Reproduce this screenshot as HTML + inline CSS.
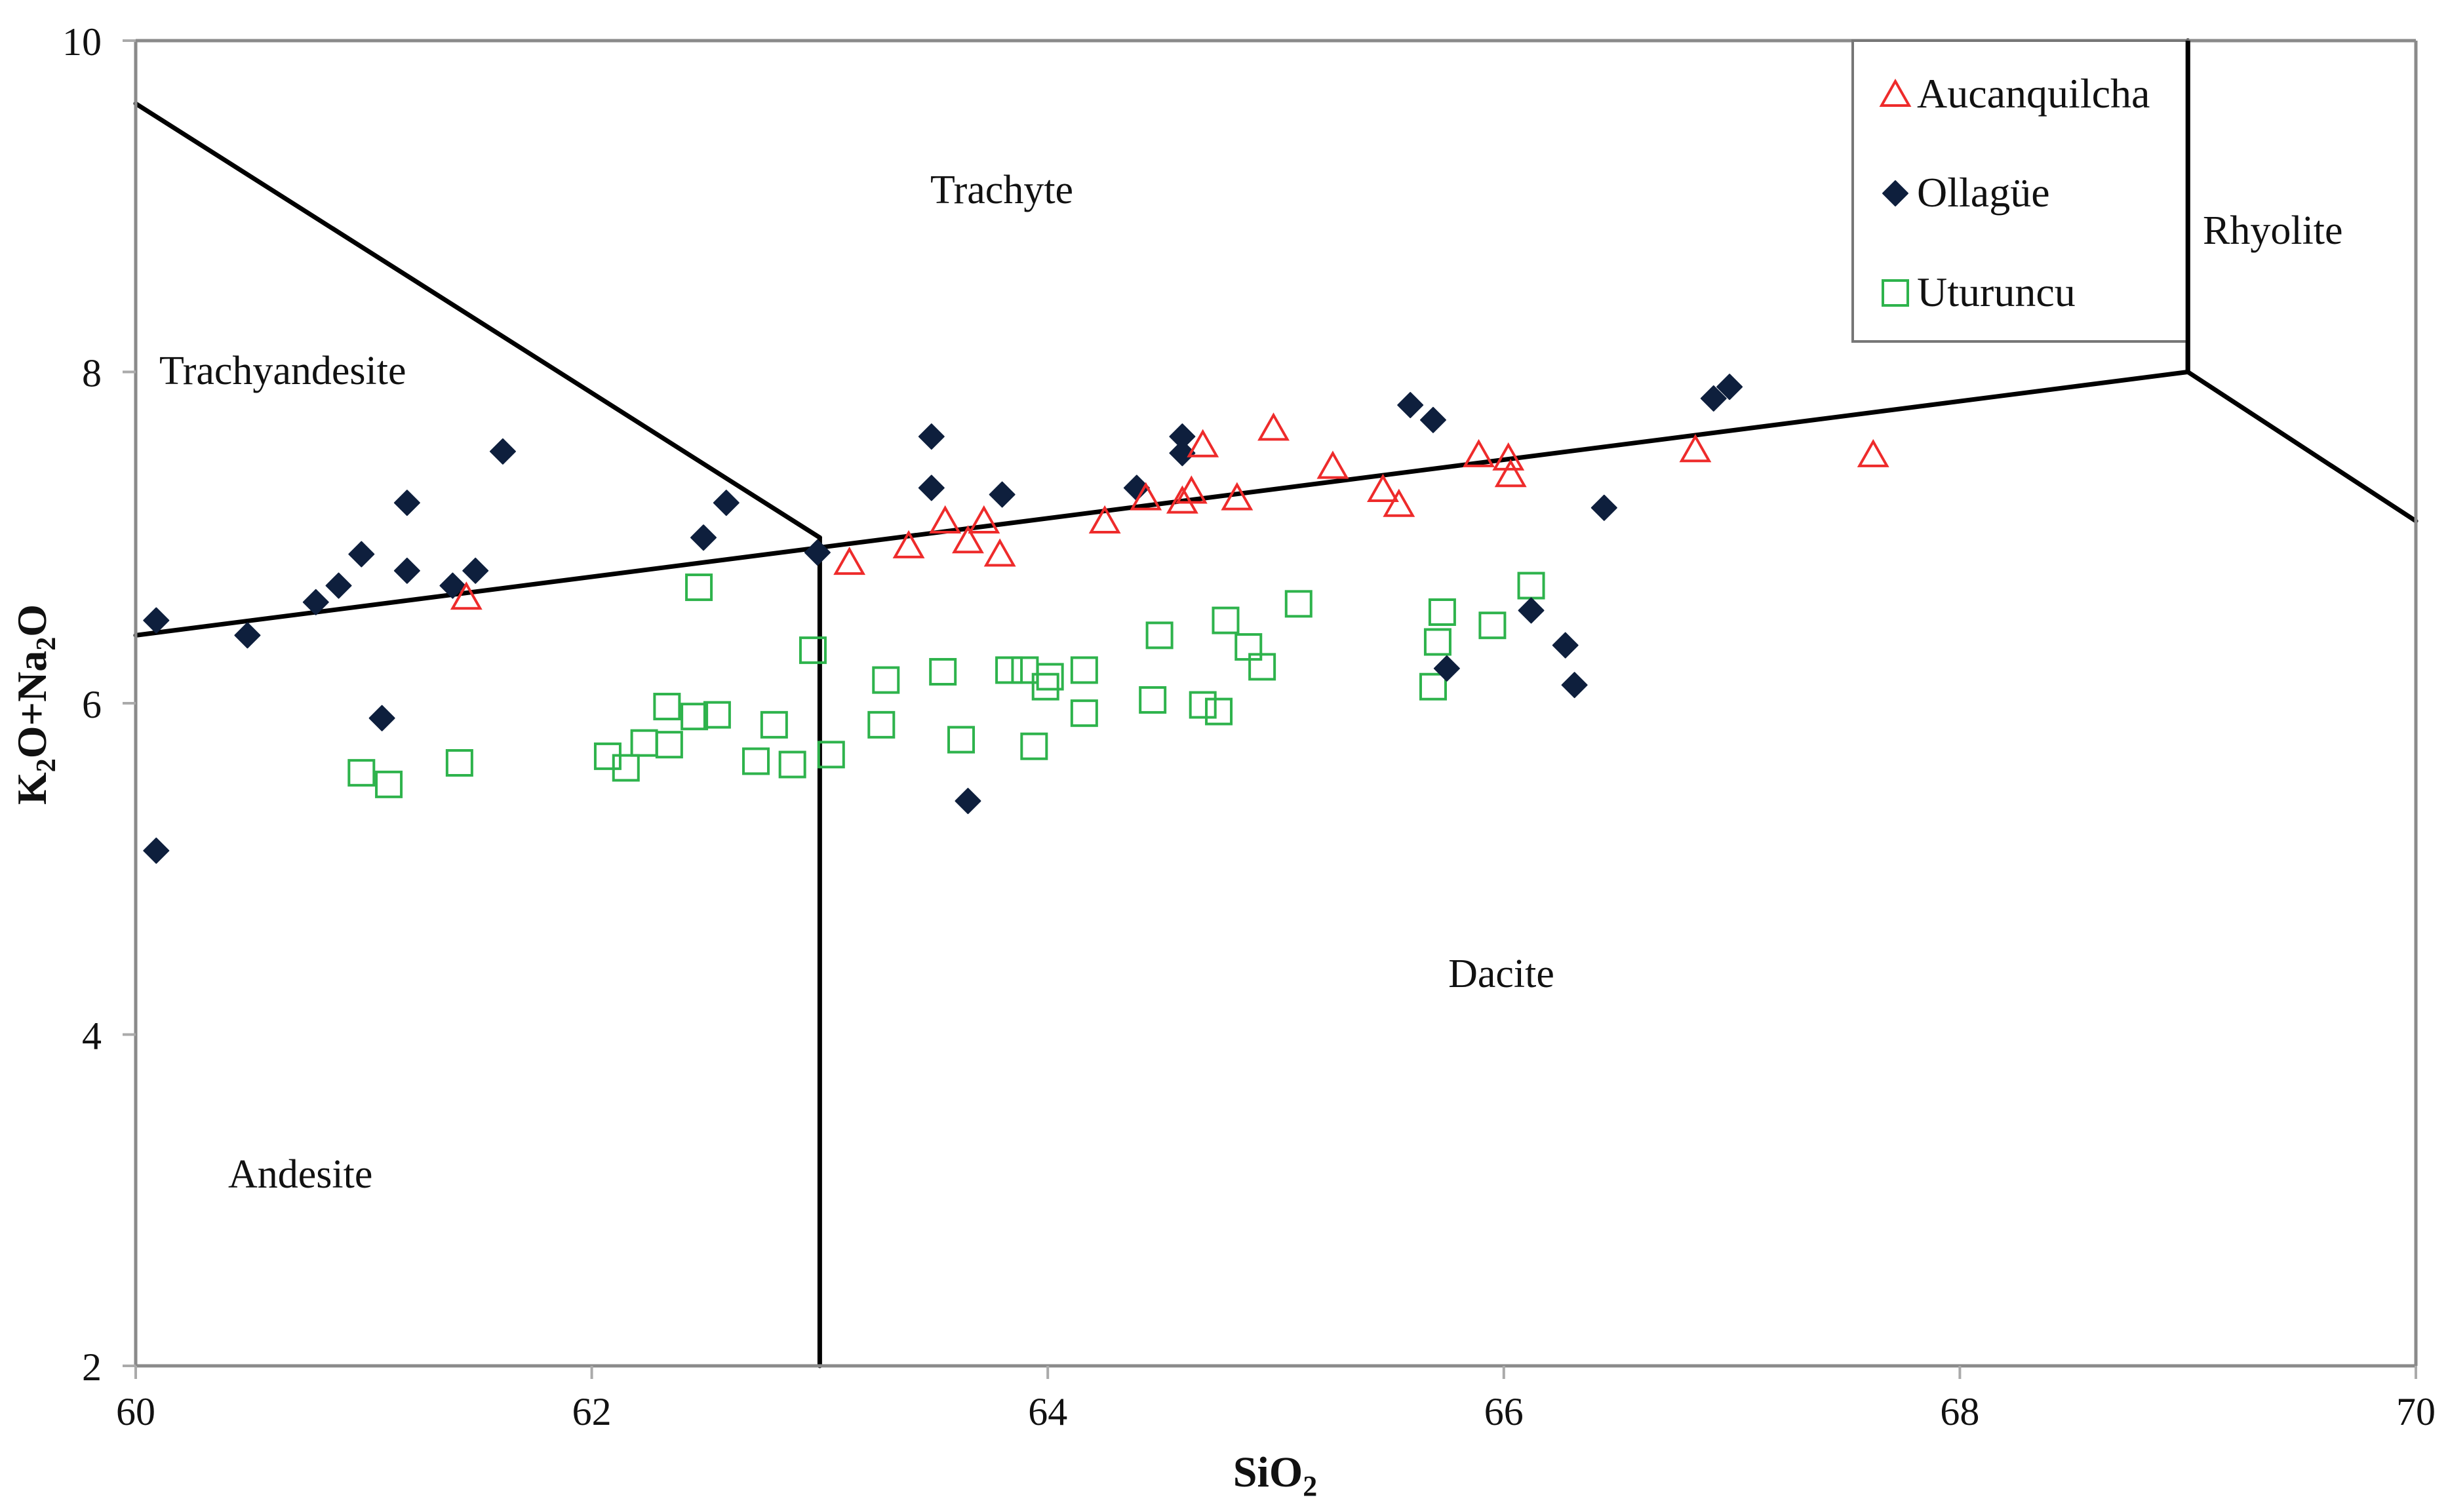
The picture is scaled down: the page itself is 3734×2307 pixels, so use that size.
<!DOCTYPE html>
<html><head><meta charset="utf-8"><style>
html,body{margin:0;padding:0;background:#fff;}
svg{display:block;font-family:"Liberation Serif",serif;}
</style></head><body>
<svg id="chart" width="3734" height="2307" viewBox="0 0 3734 2307" xmlns="http://www.w3.org/2000/svg">
<g id="fields"></g>
<g id="axes"></g>
<g id="labels"></g>
<g id="points"></g>
<g id="legend"></g>
</svg>
<script>
const xTicks = [60, 62, 64, 66, 68, 70];
const yTicks = [2, 4, 6, 8, 10];
const aucX = [61.45,63.13,63.39,63.55,63.65,63.72,63.79,64.25,64.43,64.59,64.63,64.68,64.83,64.99,65.25,65.47,65.54,65.89,66.02,66.03,66.84,67.62];
const aucY = [6.64,6.85,6.95,7.10,6.98,7.10,6.90,7.10,7.24,7.22,7.28,7.56,7.24,7.66,7.43,7.29,7.20,7.50,7.48,7.38,7.53,7.50];
const ollX = [60.09,60.49,60.79,60.89,60.99,61.19,61.19,61.39,61.49,61.61,61.08,60.09,62.49,62.59,62.99,63.49,63.49,63.80,63.65,64.39,64.59,64.59,65.59,65.69,65.75,66.12,66.27,66.31,66.44,66.92,66.99];
const ollY = [6.50,6.41,6.61,6.71,6.90,6.80,7.21,6.71,6.80,7.52,5.91,5.11,7.00,7.21,6.91,7.61,7.30,7.26,5.41,7.30,7.61,7.51,7.80,7.71,6.21,6.56,6.35,6.11,7.18,7.84,7.91];
const utuX = [60.99,61.11,61.42,62.07,62.15,62.23,62.33,62.34,62.45,62.47,62.55,62.72,62.80,62.88,62.97,63.05,63.27,63.29,63.54,63.62,63.83,63.90,63.94,63.99,64.01,64.16,64.16,64.46,64.49,64.68,64.75,64.78,64.88,64.94,65.10,65.69,65.71,65.73,65.95,66.12];
const utuY = [5.58,5.51,5.64,5.68,5.61,5.76,5.98,5.75,5.92,6.70,5.93,5.65,5.87,5.63,6.32,5.69,5.87,6.14,6.19,5.78,6.20,6.20,5.74,6.10,6.16,6.20,5.94,6.02,6.41,5.99,5.95,6.50,6.34,6.22,6.60,6.10,6.37,6.55,6.47,6.71];

const NS = "http://www.w3.org/2000/svg";
const X0 = 207, X1 = 3685, Y0 = 2084, Y1 = 62;
function sx(v){ return X0 + (v - 60) / 10 * (X1 - X0); }
function sy(v){ return Y0 - (v - 2) / 8 * (Y0 - Y1); }
function mk(tag, attrs, parent){
  const e = document.createElementNS(NS, tag);
  for (const k in attrs) e.setAttribute(k, attrs[k]);
  parent.appendChild(e);
  return e;
}
const gF = document.getElementById('fields');
const gA = document.getElementById('axes');
const gL = document.getElementById('labels');
const gP = document.getElementById('points');
const gG = document.getElementById('legend');

// boundaries
const segs = [[60,9.62,63,7.0],[60,6.41,69,8.0],[63,2,63,7.0],[69,8,69,10],[69,8,70,7.1]];
segs.forEach(s => {
  const l = mk('line', {x1:sx(s[0]), y1:sy(s[1]), x2:sx(s[2]), y2:sy(s[3]), stroke:'#000', 'stroke-width':7, 'stroke-linecap':'round'}, gF);
  
  
});

// axes frame
let a = mk('line', {x1:X0, y1:Y0, x2:X1, y2:Y0, stroke:'#8a8a8a', 'stroke-width':5}, gA);


a = mk('line', {x1:X0, y1:Y0, x2:X0, y2:Y1, stroke:'#8a8a8a', 'stroke-width':5}, gA);


a = mk('line', {x1:X0, y1:Y1, x2:X1, y2:Y1, stroke:'#8a8a8a', 'stroke-width':5}, gA);


a = mk('line', {x1:X1, y1:Y0, x2:X1, y2:Y1, stroke:'#8a8a8a', 'stroke-width':5}, gA);



xTicks.forEach(t => {
  const l = mk('line', {x1:sx(t), y1:Y0, x2:sx(t), y2:Y0+20, stroke:'#aaa', 'stroke-width':4}, gA);
  
  
  const tx = mk('text', {x:sx(t), y:Y0+90, 'font-size':60, 'text-anchor':'middle', fill:'#111'}, gA);
  tx.textContent = t;
  
  
});
yTicks.forEach(t => {
  const l = mk('line', {x1:X0-20, y1:sy(t), x2:X0, y2:sy(t), stroke:'#aaa', 'stroke-width':4}, gA);
  
  
  const tx = mk('text', {x:X0-52, y:sy(t)+22, 'font-size':60, 'text-anchor':'end', fill:'#111'}, gA);
  tx.textContent = t;
  
  
});

// axis titles
let xt = mk('text', {x:1945, y:2268, 'font-size':66, 'font-weight':'bold', 'text-anchor':'middle', fill:'#111'}, gA);
xt.innerHTML = 'SiO<tspan font-size="44" dy="14">2</tspan>';


let yt = mk('text', {x:0, y:0, 'font-size':64, 'font-weight':'bold', 'text-anchor':'middle', fill:'#111', transform:'translate(70,1075) rotate(-90)'}, gA);
yt.innerHTML = 'K<tspan font-size="42" dy="14">2</tspan><tspan dy="-14">O+Na</tspan><tspan font-size="42" dy="14">2</tspan><tspan dy="-14">O</tspan>';



// field labels
const fl = [['Trachyte',1528,310,'middle'],['Trachyandesite',243,586,'start'],['Rhyolite',3360,372,'start'],['Dacite',2290,1506,'middle'],['Andesite',348,1812,'start']];
fl.forEach(f => {
  const t = mk('text', {x:f[1], y:f[2], 'font-size':62, 'text-anchor':f[3], fill:'#111'}, gL);
  t.textContent = f[0];
  
  
});

const RED = '#ee2b2b', NAVY = '#0e1f3d', GREEN = '#2eb34c';
function tri(cx, cy, parent){
  const r = 20;
  return mk('polygon', {points:`${cx},${cy-r} ${cx+r*1.05},${cy+r*0.85} ${cx-r*1.05},${cy+r*0.85}`, fill:'none', stroke:RED, 'stroke-width':4}, parent);
}
function dia(cx, cy, parent){
  const r = 19;
  return mk('polygon', {points:`${cx},${cy-r} ${cx+r},${cy} ${cx},${cy+r} ${cx-r},${cy}`, fill:NAVY, stroke:NAVY, 'stroke-width':2, 'stroke-linejoin':'round'}, parent);
}
function sq(cx, cy, parent){
  return mk('rect', {x:cx-19, y:cy-19, width:38, height:38, fill:'none', stroke:GREEN, 'stroke-width':4}, parent);
}
utuX.forEach((v,i) => {
  const e = sq(sx(v), sy(utuY[i]), gP);
  
  
});
ollX.forEach((v,i) => {
  const e = dia(sx(v), sy(ollY[i]), gP);
  
  
});
aucX.forEach((v,i) => {
  const e = tri(sx(v), sy(aucY[i]), gP);
  
  
});

// legend
let lb = mk('rect', {x:2826, y:62, width:510, height:459, fill:'#fff', stroke:'#777', 'stroke-width':4}, gG);


let m = tri(2891, 144, gG);


m = dia(2891, 295, gG);


m = sq(2891, 447, gG);


[['Aucanquilcha',164],['Ollagüe',315],['Uturuncu',467]].forEach(e => {
  const t = mk('text', {x:2924, y:e[1], 'font-size':64, fill:'#111'}, gG);
  t.textContent = e[0];
  
  
});
// re-draw the x=69 boundary above legend box edge
const lv = mk('line', {x1:sx(69), y1:sy(8), x2:sx(69), y2:sy(10), stroke:'#000', 'stroke-width':7}, gG);


</script>
</body></html>
